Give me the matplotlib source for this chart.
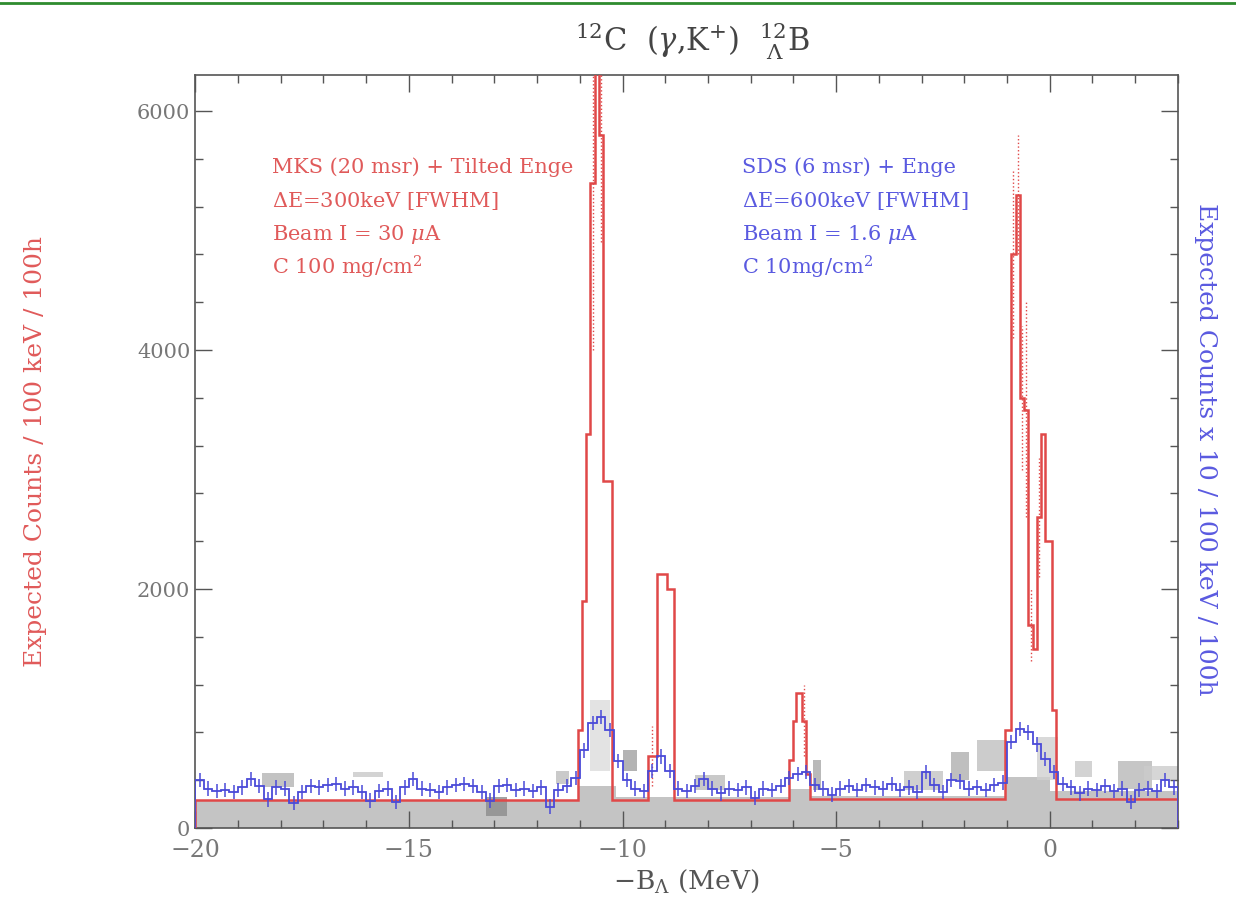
import numpy as np
import matplotlib
matplotlib.use('Agg')
import matplotlib.pyplot as plt
from matplotlib.lines import Line2D
from matplotlib.ticker import MultipleLocator

plt.rcParams['font.family'] = ['DejaVu Serif']
plt.rcParams['mathtext.fontset'] = 'dejavuserif'

# MKS spectrum (red), variable-width bins
red_edges = [-20.0, -11.05, -10.95, -10.85, -10.75, -10.65, -10.55, -10.45, -10.25, -9.4,
             -9.2, -8.95, -8.8, -6.1, -6.0, -5.93, -5.8, -5.7, -5.6, -1.05,
             -0.9, -0.8, -0.7, -0.6, -0.5, -0.4, -0.3, -0.2, -0.1, 0.05,
             0.15, 3.0]
red_counts = [235, 820, 1900, 3300, 5400, 7000, 5800, 2900, 235, 600,
              2130, 2000, 235, 570, 900, 1130, 900, 450, 240, 820,
              4800, 5300, 3600, 3500, 1700, 1500, 2600, 3300, 2400, 990,
              240]
red_err = [0, 0, 0, 0, 1400, 0, 900, 0, 0, 250,
           0, 0, 0, 0, 0, 0, 300, 0, 0, 0,
           700, 500, 600, 900, 300, 0, 500, 0, 0, 0,
           0]

# SDS spectrum (blue), counts x 10, 0.2 MeV bins from -20 to 3
blue_counts = [400, 330, 310, 320, 300, 340, 410, 350, 240, 340,
               330, 210, 300, 350, 340, 360, 370, 330, 340, 300,
               230, 310, 330, 220, 340, 410, 330, 320, 300, 340,
               360, 370, 350, 300, 230, 350, 360, 320, 330, 310,
               340, 180, 320, 350, 420, 650, 880, 930, 820, 560,
               400, 330, 310, 480, 600, 480, 330, 310, 350, 410,
               330, 290, 330, 320, 340, 250, 330, 320, 350, 420,
               450, 470, 360, 330, 280, 330, 350, 320, 360, 340,
               330, 370, 320, 340, 300, 470, 360, 300, 400, 390,
               330, 340, 320, 360, 380, 720, 830, 800, 700, 580,
               470, 370, 340, 290, 330, 320, 350, 310, 330, 220,
               320, 330, 310, 400, 340]
blue_err = 60

# background (gray)
bg_edges = [-20.0, -11.05, -10.15, -6.1, -5.6, -1.05, 0.0, 3.0]
bg_counts = [225, 350, 260, 330, 270, 430, 310]
ghost_x0 = [-18.45, -16.3, -13.2, -11.55, -10.75, -10.0, -8.3, -5.55, -3.4, -2.3, -1.7, -0.3, 0.6, 1.6, 2.2]
ghost_x1 = [-17.7, -15.6, -12.7, -11.25, -10.3, -9.65, -7.6, -5.35, -2.5, -1.9, -1.0, 0.2, 1.0, 2.4, 3.0]
ghost_lo = [340, 430, 100, 370, 480, 480, 320, 320, 320, 400, 480, 400, 430, 330, 400]
ghost_hi = [460, 470, 260, 480, 1070, 650, 440, 570, 480, 640, 740, 760, 560, 560, 520]
ghost_gray = ['#b4b4b4', '#c8c8c8', '#8c8c8c', '#bdbdbd', '#dcdcdc', '#a0a0a0', '#bcbcbc', '#a8a8a8',
              '#c4c4c4', '#b0b0b0', '#c0c0c0', '#d0d0d0', '#c8c8c8', '#b8b8b8', '#cccccc']

red_c = '#e04848'
blue_c = '#4a4ad8'

fig = plt.figure(figsize=(12.36, 9.17), dpi=100)
ax = fig.add_axes([0.158, 0.097, 0.795, 0.821])

ax.stairs(bg_counts, bg_edges, fill=True, color='#c4c4c4', zorder=1)
for x0, x1, lo, hi, g in zip(ghost_x0, ghost_x1, ghost_lo, ghost_hi, ghost_gray):
    ax.fill_between([x0, x1], lo, hi, color=g, lw=0, alpha=0.8, zorder=1)

ax.stairs(red_counts, red_edges, color=red_c, lw=1.8, zorder=3)
red_x = 0.5 * (np.array(red_edges[:-1]) + np.array(red_edges[1:]))
eb = ax.errorbar(red_x, red_counts, yerr=red_err, fmt='none', ecolor=red_c, elinewidth=1.0, zorder=3)
eb[2][0].set_linestyle(':')

blue_edges = np.arange(-20.0, 3.0001, 0.2)
blue_x = 0.5 * (blue_edges[:-1] + blue_edges[1:])
ax.stairs(blue_counts, blue_edges, color=blue_c, lw=1.3, zorder=4)
ax.errorbar(blue_x, blue_counts, yerr=blue_err, fmt='none', ecolor=blue_c, elinewidth=1.1,
            capsize=0, zorder=4)

ax.set_xlim(-20, 3)
ax.set_ylim(0, 6300)
ax.xaxis.set_major_locator(MultipleLocator(5))
ax.xaxis.set_minor_locator(MultipleLocator(1))
ax.yaxis.set_major_locator(MultipleLocator(2000))
ax.yaxis.set_minor_locator(MultipleLocator(400))
ax.tick_params(which='both', direction='in', top=True, right=True, colors='#555555',
               labelcolor='#777777', labelsize=15)
ax.tick_params(axis='x', labelsize=17, pad=8)
ax.tick_params(which='major', length=12, width=1)
ax.tick_params(which='minor', length=6, width=1)
for s in ax.spines.values():
    s.set_color('#555555')
    s.set_linewidth(1.2)

ax.set_xlabel(r'$-\mathrm{B}_\Lambda$ (MeV)', fontsize=19, color='#555555')
ax.set_ylabel('Expected Counts / 100 keV / 100h', fontsize=18, color='#e05a5a', labelpad=65)
fig.text(0.975, 0.51, 'Expected Counts x 10 / 100 keV / 100h', rotation=-90, fontsize=18,
         color='#5a5ae0', ha='center', va='center')
fig.text(0.56, 0.955, r'$^{12}$C  ($\gamma$,K$^{+}$)  $^{12}_{\ \Lambda}$B', fontsize=22,
         color='#444444', ha='center', va='center')

red_lines = ['MKS (20 msr) + Tilted Enge', r'$\Delta$E=300keV [FWHM]',
             r'Beam I = 30 $\mu$A', r'C 100 mg/cm$^2$']
blue_lines = ['SDS (6 msr) + Enge', r'$\Delta$E=600keV [FWHM]',
              r'Beam I = 1.6 $\mu$A', r'C 10mg/cm$^2$']
for i, (rt, bt) in enumerate(zip(red_lines, blue_lines)):
    yy = 5530 - i * 280
    ax.text(-18.2, yy, rt, color='#e05a5a', fontsize=15, va='center', zorder=5)
    ax.text(-7.2, yy, bt, color='#5a5ae0', fontsize=15, va='center', zorder=5)

fig.add_artist(Line2D([0, 1], [0.997, 0.997], color='#2e8b2e', lw=2))

fig.savefig('out.png', dpi=100)
